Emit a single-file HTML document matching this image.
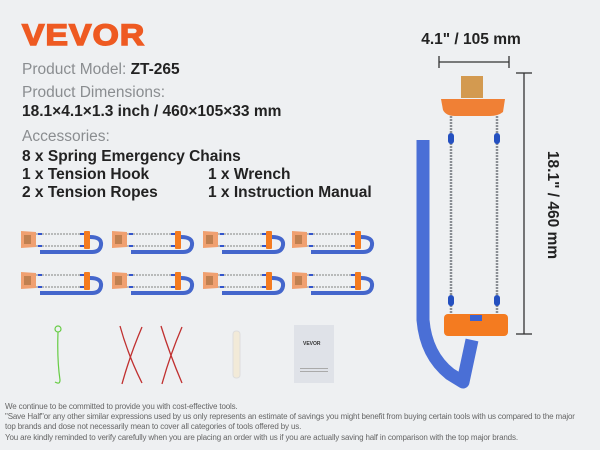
<!DOCTYPE html>
<html><head><style>
body{margin:0;width:600px;height:450px;background:#eef0f2;position:relative;overflow:hidden;font-family:"Liberation Sans",sans-serif}
.t{position:absolute;left:22px;white-space:nowrap}
.g{color:#8a8d90;font-size:15.5px}
.b{color:#222;font-size:15.5px;font-weight:bold}
.f{position:absolute;left:5px;font-size:8px;color:#666;white-space:nowrap;letter-spacing:-0.15px}
</style></head><body>
<div class="t" style="top:19px;font-size:30px;font-weight:bold;color:#ee5a22;font-family:'Liberation Sans',sans-serif;letter-spacing:1px;transform:scaleX(1.12);transform-origin:left;-webkit-text-stroke:1.5px #ee5a22">VEVOR</div>
<div class="t g" style="top:61px">Product Model: <b style="color:#222">ZT-265</b></div>
<div class="t g" style="top:84px">Product Dimensions:</div>
<div class="t b" style="top:103px">18.1×4.1×1.3 inch / 460×105×33 mm</div>
<div class="t g" style="top:128px">Accessories:</div>
<div class="t b" style="top:148px">8 x Spring Emergency Chains</div>
<div class="t b" style="top:166px">1 x Tension Hook</div>
<div class="t b" style="top:166px;left:208px">1 x Wrench</div>
<div class="t b" style="top:184px">2 x Tension Ropes</div>
<div class="t b" style="top:184px;left:208px">1 x Instruction Manual</div>

<svg width="600" height="450" style="position:absolute;left:0;top:0">
<defs>
<g id="u">
<path d="M19 0 L34 1 L34 16 L19 17 Z" fill="#f0a070"/>
<rect x="22" y="4" width="7" height="9" fill="#c08050"/>
<line x1="34" y1="3" x2="82" y2="3" stroke="#999" stroke-width="1.2" stroke-dasharray="2 1"/>
<line x1="34" y1="15" x2="82" y2="15" stroke="#999" stroke-width="1.2" stroke-dasharray="2 1"/>
<rect x="36" y="2" width="4" height="2" fill="#3355cc"/><rect x="36" y="14" width="4" height="2" fill="#3355cc"/>
<rect x="78" y="2" width="4" height="2" fill="#3355cc"/><rect x="78" y="14" width="4" height="2" fill="#3355cc"/>
<rect x="82" y="0" width="6" height="18" rx="1" fill="#f47b20"/>
<path d="M88 6 Q100 6 99 14 Q98 21 90 21 L38 21" fill="none" stroke="#4466cc" stroke-width="4"/>
</g>
</defs>
<use href="#u" x="2" y="231"/><use href="#u" x="93" y="231"/><use href="#u" x="184" y="231"/><use href="#u" x="273" y="231"/>
<use href="#u" x="2" y="272"/><use href="#u" x="93" y="272"/><use href="#u" x="184" y="272"/><use href="#u" x="273" y="272"/>
<circle cx="58" cy="329" r="3" fill="none" stroke="#66cc44" stroke-width="1.2"/>
<path d="M58 332 Q57 360 60 380 Q60 385 55 382" fill="none" stroke="#66cc44" stroke-width="1.2"/>
<g stroke="#c03030" stroke-width="1.3" fill="none">
<path d="M120 326 Q128 355 142 383"/><path d="M142 327 Q130 355 122 384"/>
<path d="M161 326 Q170 355 182 383"/><path d="M182 327 Q170 355 162 384"/>
</g>
<rect x="233" y="331" width="7" height="47" rx="3" fill="#f2ead8" stroke="#ddd"/>
<rect x="294" y="325" width="40" height="58" fill="#dfe2e8"/>
<text x="303" y="345" font-size="5" font-weight="bold" fill="#333" font-family="Liberation Sans">VEVOR</text>
<rect x="300" y="368" width="28" height="1" fill="#aaa"/><rect x="300" y="371" width="28" height="1" fill="#aaa"/>
<g stroke="#333" stroke-width="1.3">
<line x1="439" y1="62" x2="509" y2="62"/><line x1="439" y1="56" x2="439" y2="68"/><line x1="509" y1="56" x2="509" y2="68"/>
<line x1="524" y1="73" x2="524" y2="334"/><line x1="516" y1="73" x2="532" y2="73"/><line x1="516" y1="334" x2="532" y2="334"/>
</g>
<text x="471" y="44" text-anchor="middle" font-size="15.5" font-weight="bold" fill="#222" font-family="Liberation Sans">4.1" / 105 mm</text>
<text transform="translate(548,205) rotate(90)" text-anchor="middle" font-size="15.5" font-weight="bold" fill="#222" font-family="Liberation Sans">18.1" / 460 mm</text>
<path d="M423 140 L423 320 Q426 355 450 374 L463 382 L472 340" fill="none" stroke="#4a6fd6" stroke-width="13" stroke-linejoin="round"/>
<rect x="461" y="76" width="22" height="22" fill="#d39a50"/>
<path d="M441 99 L505 99 L503 112 Q498 116 490 116 L455 116 Q446 116 443 110 Z" fill="#f08035"/>
<g stroke="#8a8e94" stroke-width="2.5" stroke-dasharray="2 1">
<line x1="451" y1="116" x2="451" y2="314"/><line x1="497" y1="116" x2="497" y2="314"/>
</g>
<rect x="448" y="133" width="6" height="11" rx="3" fill="#2450c0"/><rect x="494" y="133" width="6" height="11" rx="3" fill="#2450c0"/>
<rect x="448" y="295" width="6" height="11" rx="3" fill="#2450c0"/><rect x="494" y="295" width="6" height="11" rx="3" fill="#2450c0"/>
<rect x="444" y="314" width="64" height="22" rx="4" fill="#f47b20"/>
<rect x="470" y="315" width="12" height="6" fill="#3b62d0"/>
</svg>
<div class="f" style="top:402px">We continue to be committed to provide you with cost-effective tools.</div>
<div class="f" style="top:412px">"Save Half"or any other similar expressions used by us only represents an estimate of savings you might benefit from buying certain tools with us compared to the major</div>
<div class="f" style="top:422px">top brands and dose not necessarily mean to cover all categories of tools offered by us.</div>
<div class="f" style="top:433px">You are kindly reminded to verify carefully when you are placing an order with us if you are actually saving half in comparison with the top major brands.</div>
</body></html>
